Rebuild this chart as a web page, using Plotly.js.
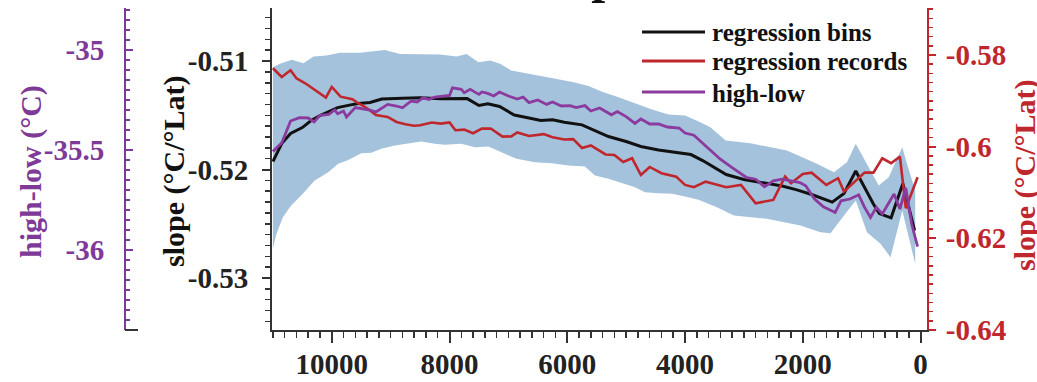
<!DOCTYPE html>
<html>
<head>
<meta charset="utf-8">
<script src="https://cdn.plot.ly/plotly-3.0.1.min.js"></script>
<style>
  html, body { margin: 0; padding: 0; background: #fff; }
  #chart { width: 1037px; height: 382px; }
</style>
</head>
<body>
<div id="chart"></div>
<script>
// Age (years BP) and slope values for each series
const binsYear = [11000,10850,10700,10500,10350,10200,10050,9900,9700,9550,9350,9150,8800,8500,8150,7700,7500,7350,7150,6900,6650,6450,6250,6050,5750,5500,5300,5000,4750,4450,4150,3900,3700,3500,3300,3000,2650,2350,2100,1850,1500,1300,1100,900,800,700,500,300,100];
const binsSlope = [-0.51926,-0.51760,-0.51668,-0.51613,-0.51548,-0.51502,-0.51465,-0.51429,-0.51406,-0.51392,-0.51382,-0.51350,-0.51343,-0.51339,-0.51348,-0.51346,-0.51410,-0.51394,-0.51419,-0.51498,-0.51525,-0.51548,-0.51542,-0.51564,-0.51588,-0.51650,-0.51696,-0.51742,-0.51788,-0.51820,-0.51841,-0.51862,-0.51917,-0.51982,-0.52046,-0.52092,-0.52126,-0.52152,-0.52187,-0.52230,-0.52300,-0.52221,-0.52014,-0.52221,-0.52318,-0.52406,-0.52445,-0.52129,-0.52562];

const recordsYear = [11000,10850,10700,10600,10450,10300,10100,10000,9850,9650,9550,9400,9250,9050,8900,8750,8600,8500,8300,8150,8000,7900,7750,7600,7450,7300,7100,6950,6850,6650,6400,6250,6050,5900,5750,5600,5350,5200,5050,4900,4750,4600,4400,4150,4000,3850,3650,3550,3300,3050,2800,2500,2300,2200,2000,1850,1600,1400,1300,950,800,650,500,350,250,50];
const recordsSlope = [-0.58290,-0.58480,-0.58334,-0.58508,-0.58617,-0.58752,-0.58931,-0.58698,-0.58909,-0.58966,-0.59053,-0.59162,-0.59309,-0.59352,-0.59461,-0.59511,-0.59544,-0.59533,-0.59472,-0.59498,-0.59472,-0.59642,-0.59629,-0.59708,-0.59607,-0.59603,-0.59782,-0.59775,-0.59690,-0.59767,-0.59727,-0.59793,-0.59843,-0.59836,-0.60028,-0.59974,-0.60170,-0.60181,-0.60334,-0.60253,-0.60617,-0.60443,-0.60580,-0.60654,-0.60835,-0.60885,-0.60763,-0.60798,-0.60885,-0.60835,-0.61234,-0.61163,-0.60654,-0.60798,-0.60595,-0.60567,-0.60835,-0.60689,-0.60981,-0.60567,-0.60567,-0.60253,-0.60362,-0.60218,-0.61343,-0.60667];

const highLowYear = [11000,10850,10700,10550,10400,10300,10200,10050,9950,9900,9800,9750,9600,9450,9350,9250,9150,9050,8900,8800,8650,8550,8450,8350,8250,8100,8000,7950,7800,7750,7650,7500,7450,7350,7250,7150,7000,6850,6750,6650,6500,6350,6250,6100,5950,5850,5700,5600,5450,5250,5150,5000,4850,4750,4600,4450,4300,4100,4000,3850,3750,3550,3400,3200,2950,2800,2650,2500,2350,2200,2050,1950,1800,1650,1450,1350,1200,1050,950,850,750,650,450,350,250,150,50];
const highLowTemp = [-35.506,-35.464,-35.354,-35.337,-35.339,-35.359,-35.326,-35.321,-35.299,-35.318,-35.304,-35.334,-35.287,-35.296,-35.299,-35.309,-35.288,-35.271,-35.279,-35.288,-35.254,-35.259,-35.238,-35.246,-35.234,-35.229,-35.226,-35.188,-35.196,-35.213,-35.196,-35.221,-35.209,-35.216,-35.229,-35.209,-35.229,-35.244,-35.234,-35.262,-35.249,-35.271,-35.259,-35.279,-35.277,-35.287,-35.277,-35.304,-35.289,-35.323,-35.307,-35.332,-35.366,-35.344,-35.369,-35.369,-35.384,-35.389,-35.414,-35.425,-35.451,-35.503,-35.545,-35.587,-35.637,-35.645,-35.683,-35.653,-35.645,-35.653,-35.662,-35.678,-35.744,-35.783,-35.811,-35.753,-35.744,-35.723,-35.786,-35.836,-35.786,-35.819,-35.719,-35.794,-35.689,-35.869,-35.982];

// Spread of the binned regression (upper and lower edges)
const bandUpperYear = [11000,10880,10680,10480,10310,10090,9860,9520,9290,9100,8840,8560,8160,7880,7710,7510,7310,7140,6950,6680,6440,6270,6090,5870,5640,5420,5130,4850,4560,4280,4000,3770,3570,3310,2890,2270,1760,1470,1250,1100,930,710,540,310,230,90];
const bandUpper = [-0.51057,-0.51026,-0.50989,-0.51020,-0.50959,-0.50949,-0.50924,-0.50924,-0.50910,-0.50897,-0.50934,-0.50934,-0.50940,-0.50959,-0.50934,-0.51011,-0.50995,-0.51026,-0.51088,-0.51115,-0.51143,-0.51157,-0.51175,-0.51198,-0.51230,-0.51281,-0.51334,-0.51392,-0.51447,-0.51493,-0.51502,-0.51558,-0.51610,-0.51733,-0.51758,-0.51825,-0.51947,-0.52025,-0.51933,-0.51763,-0.51933,-0.52147,-0.52071,-0.51794,-0.51947,-0.52194];
const bandLowerYear = [11000,10940,10830,10690,10520,10290,10060,9890,9720,9500,9330,9160,8930,8700,8480,8250,8080,7800,7570,7340,7230,7060,6860,6550,6260,5980,5700,5530,5300,5070,4850,4680,4450,4220,4000,3770,3460,3170,2610,2040,1700,1530,1300,1100,910,680,510,310,90];
const bandLower = [-0.52731,-0.52593,-0.52440,-0.52332,-0.52240,-0.52101,-0.52025,-0.51947,-0.51911,-0.51850,-0.51846,-0.51809,-0.51779,-0.51763,-0.51742,-0.51763,-0.51772,-0.51763,-0.51794,-0.51788,-0.51818,-0.51855,-0.51901,-0.51933,-0.51942,-0.51963,-0.51972,-0.52055,-0.52086,-0.52126,-0.52163,-0.52209,-0.52218,-0.52224,-0.52249,-0.52279,-0.52347,-0.52424,-0.52454,-0.52516,-0.52578,-0.52587,-0.52424,-0.52286,-0.52578,-0.52685,-0.52808,-0.52378,-0.52869];

// Tick values and labels
const xTickVals = [10000, 8000, 6000, 4000, 2000, 0];
const xTickText = ['10000', '8000', '6000', '4000', '2000', '0'];
const slopeTickVals = [-0.51, -0.52, -0.53];
const slopeTickText = ['-0.51', '-0.52', '-0.53'];
const recTickVals = [-0.58, -0.60, -0.62, -0.64];
const recTickText = ['-0.58', '-0.6', '-0.62', '-0.64'];
const hlTickVals = [-35, -35.5, -36];
const hlTickText = ['-35', '-35.5', '-36'];

const seriesNames = ['regression bins', 'regression records', 'high-low'];

const FONT = 'Liberation Serif, Times New Roman, serif';
const BLACK = '#111111';
const RED = '#c0272d';
const PURPLE = '#8b3a9e';
const PURPLE_AX = '#7e3a96';
const AXIS = '#333333';
const BAND = '#a4c2dc';

// Layout geometry in pixels
const W = 1037, H = 382;
const M = { l: 100, r: 110, t: 8, b: 52 };
const PW = W - M.l - M.r, PH = H - M.t - M.b;
const px = x => (x - M.l) / PW;
const py = y => (H - M.b - y) / PH;

const band = {
  x: bandUpperYear.concat(bandLowerYear.slice().reverse()),
  y: bandUpper.concat(bandLower.slice().reverse()),
  type: 'scatter', mode: 'lines', fill: 'toself', fillcolor: BAND,
  line: { width: 0, color: BAND }, hoverinfo: 'skip', showlegend: false, yaxis: 'y'
};
const bins = { x: binsYear, y: binsSlope, type: 'scatter', mode: 'lines',
  line: { color: BLACK, width: 3 }, name: seriesNames[0], yaxis: 'y', showlegend: false };
const records = { x: recordsYear, y: recordsSlope, type: 'scatter', mode: 'lines',
  line: { color: RED, width: 2.6 }, name: seriesNames[1], yaxis: 'y2', showlegend: false };
const highLow = { x: highLowYear, y: highLowTemp, type: 'scatter', mode: 'lines',
  line: { color: PURPLE, width: 2.8 }, name: seriesNames[2], yaxis: 'y3', showlegend: false };

const tickFont = c => ({ family: FONT, size: 29, color: c, weight: 'bold' });

// Legend drawn as short line samples with labels
const legendRows = [32, 61, 92];
const legendColors = [BLACK, RED, PURPLE];
const shapes = legendRows.map((yy, i) => ({
  type: 'line', xref: 'paper', yref: 'paper',
  x0: px(642), x1: px(705), y0: py(yy), y1: py(yy),
  line: { color: legendColors[i], width: 3 }
}));
// small stub at the foot of the high-low axis
shapes.push({ type: 'line', xref: 'paper', yref: 'paper', x0: px(125), x1: px(138), y0: 0, y1: 0,
  line: { color: AXIS, width: 2 } });

const annotations = legendRows.map((yy, i) => ({
  xref: 'paper', yref: 'paper', x: px(710), y: py(yy + 1), xanchor: 'left', yanchor: 'middle',
  text: seriesNames[i], showarrow: false,
  font: { family: FONT, size: 25, color: BLACK, weight: 'bold' }
}));
annotations.push(
  { xref: 'paper', yref: 'paper', x: px(174), y: py(172), xanchor: 'center', yanchor: 'middle',
    textangle: -90, showarrow: false,
    text: 'slope (°C/°Lat)', font: { family: FONT, size: 30, color: BLACK, weight: 'bold' } },
  { xref: 'paper', yref: 'paper', x: px(31), y: py(172), xanchor: 'center', yanchor: 'middle',
    textangle: -90, showarrow: false,
    text: 'high-low (°C)', font: { family: FONT, size: 30, color: PURPLE_AX, weight: 'bold' } },
  { xref: 'paper', yref: 'paper', x: px(1025), y: py(176), xanchor: 'center', yanchor: 'middle',
    textangle: -90, showarrow: false,
    text: 'slope (°C/°Lat)', font: { family: FONT, size: 30, color: RED, weight: 'bold' } },
  { xref: 'paper', yref: 'paper', x: px(587), y: py(5), xanchor: 'center', yanchor: 'bottom',
    showarrow: false, text: 'slope', font: { family: FONT, size: 50, color: BLACK, weight: 'bold' } }
);

const layout = {
  width: W, height: H,
  margin: M,
  paper_bgcolor: '#ffffff', plot_bgcolor: 'rgba(0,0,0,0)',
  showlegend: false,
  xaxis: {
    domain: [px(272), 1], range: [11015, -110],
    tickmode: 'array', tickvals: xTickVals, ticktext: xTickText,
    ticks: 'outside', ticklen: 11, tickwidth: 2, tickcolor: AXIS,
    minor: { tickmode: 'linear', tick0: 0, dtick: 200, ticks: 'outside', ticklen: 6, tickwidth: 1.5, tickcolor: AXIS },
    showline: true, linecolor: AXIS, linewidth: 2, showgrid: false, zeroline: false,
    tickfont: tickFont('#222222'), ticklabelstandoff: -4
  },
  yaxis: {
    range: [-0.53479, -0.50511], anchor: 'x', side: 'left',
    tickmode: 'array', tickvals: slopeTickVals, ticktext: slopeTickText,
    ticks: 'outside', ticklen: 8, tickwidth: 2, tickcolor: AXIS,
    minor: { tickmode: 'linear', tick0: -0.5, dtick: 0.001, ticks: 'outside', ticklen: 5, tickwidth: 1.5, tickcolor: AXIS },
    showline: true, linecolor: AXIS, linewidth: 2, showgrid: false, zeroline: false,
    tickfont: tickFont('#222222'), ticklabelstandoff: 8
  },
  yaxis2: {
    range: [-0.64, -0.56975], overlaying: 'y', anchor: 'x', side: 'right',
    tickmode: 'array', tickvals: recTickVals, ticktext: recTickText,
    ticks: 'outside', ticklen: 7, tickwidth: 2, tickcolor: RED,
    minor: { tickmode: 'linear', tick0: -0.6, dtick: 0.002, ticks: 'outside', ticklen: 4, tickwidth: 1.5, tickcolor: RED },
    showline: true, linecolor: RED, linewidth: 2, showgrid: false, zeroline: false,
    tickfont: tickFont(RED), ticklabelstandoff: 4
  },
  yaxis3: {
    range: [-36.399, -34.789], overlaying: 'y', anchor: 'free', position: px(125), side: 'left',
    tickmode: 'array', tickvals: hlTickVals, ticktext: hlTickText,
    ticks: 'inside', ticklen: 7, tickwidth: 2, tickcolor: PURPLE_AX,
    minor: { tickmode: 'linear', tick0: -35, dtick: 0.05, ticks: 'inside', ticklen: 4, tickwidth: 1.5, tickcolor: PURPLE_AX },
    showline: true, linecolor: PURPLE_AX, linewidth: 2, showgrid: false, zeroline: false,
    tickfont: tickFont(PURPLE_AX), ticklabelstandoff: 14
  },
  shapes: shapes,
  annotations: annotations
};

Plotly.newPlot('chart', [band, bins, records, highLow], layout, { displayModeBar: false, staticPlot: true });
</script>
</body>
</html>
